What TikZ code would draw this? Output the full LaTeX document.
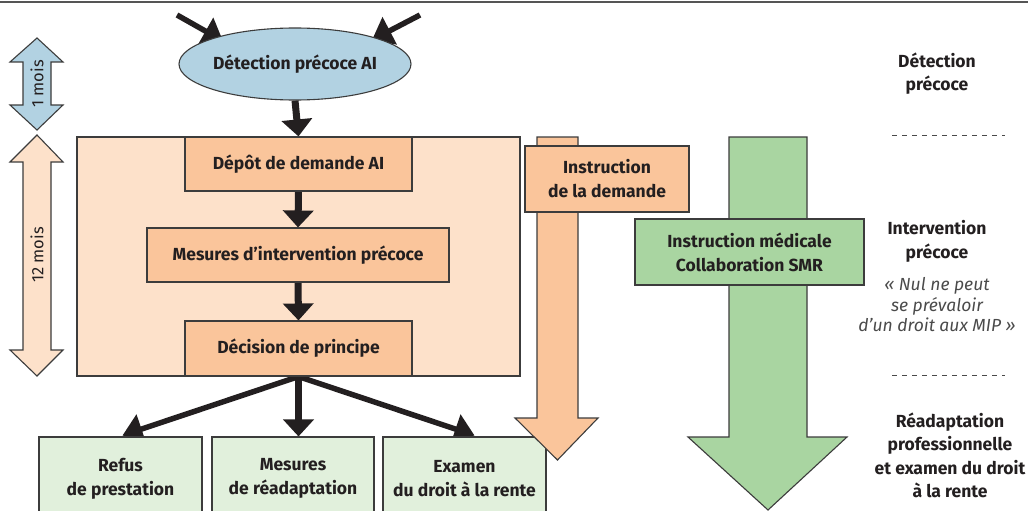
\documentclass[tikz,border=0pt]{standalone}
\usepackage{fontspec}
\setmainfont{Fira Sans}
\usetikzlibrary{shapes.geometric,arrows.meta,calc}
\definecolor{txt}{HTML}{231F20}
\definecolor{edge}{HTML}{3C3C3C}
\definecolor{bluef}{HTML}{B2D2E2}
\definecolor{peachL}{HTML}{FDE1CA}
\definecolor{peachM}{HTML}{FAC59B}
\definecolor{greenL}{HTML}{E1F0DC}
\definecolor{greenM}{HTML}{A9D5A1}
\definecolor{quotec}{HTML}{4A4A4A}
\definecolor{rulec}{HTML}{555555}
\pgfdeclarelayer{back}
\pgfdeclarelayer{background}
\pgfsetlayers{back,background,main}
\tikzset{
  box/.style={draw=edge, line width=1.1pt, text=txt, align=center, inner sep=0pt,
    font=\fontsize{17.5}{24}\selectfont\bfseries},
  lbl/.style={text=txt, align=center, inner sep=0pt,
    font=\fontsize{17.5}{23.5}\selectfont\bfseries},
  quote/.style={text=quotec, align=center, inner sep=0pt,
    font=\fontsize{17.5}{20.5}\selectfont\itshape},
  months/.style={text=txt, inner sep=0pt, rotate=90,
    font=\fontsize{16.5}{18}\selectfont},
  shapeedge/.style={draw=edge, line width=1.1pt},
  vert/.style={draw=txt, line width=7pt, -{Triangle[width=30pt,length=17pt]}},
  diag/.style={draw=txt, line width=5.5pt, -{Triangle[width=30pt,length=20pt]}},
  sep/.style={draw=quotec, line width=0.9pt, dash pattern=on 5pt off 5pt},
}
\begin{document}
\begin{tikzpicture}[x=1pt,y=-1pt]
\useasboundingbox (0,0) rectangle (1028,511);
\begin{pgfonlayer}{back}
  \fill[white] (0,0) rectangle (1028,511);
\end{pgfonlayer}
\draw[rulec, line width=2pt] (0,2) -- (1028,2);

% big peach zone and time arrows
\begin{pgfonlayer}{back}
  \node[draw=edge, line width=1.1pt, fill=peachL, minimum width=443pt, minimum height=239pt, inner sep=0pt] (zone) at (298.5,256.5) {};
  \path[shapeedge, fill=bluef] (37,38) -- (63,62) -- (51,62) -- (51,105) -- (63,105) -- (37,130) -- (10,105) -- (23,105) -- (23,62) -- (10,62) -- cycle;
  \path[shapeedge, fill=peachL] (37,135) -- (63,162) -- (51,162) -- (51,350) -- (63,350) -- (37,376) -- (10,350) -- (23,350) -- (23,162) -- (10,162) -- cycle;
\end{pgfonlayer}
\node[months] (m1) at (37,84) {1 mois};
\node[months] (m12) at (37,255) {12 mois};

% main flow
\node[ellipse, box, fill=bluef, minimum width=232pt, minimum height=72pt] (det) at (295,64) {Détection précoce AI};
\node[box, fill=peachM, minimum width=227pt, minimum height=54pt] (depot) at (298.5,164) {Dépôt de demande AI};
\node[box, fill=peachM, minimum width=302pt, minimum height=54pt] (mip) at (298,255) {Mesures d’intervention précoce};
\node[box, fill=peachM, minimum width=227pt, minimum height=55pt] (dec) at (298.5,348.5) {Décision de principe};

\node[box, fill=greenL, minimum width=163pt, minimum height=83pt] (refus) at (120.5,478.5) {Refus\\de prestation};
\node[box, fill=greenL, minimum width=162pt, minimum height=83pt] (readapt) at (293,478.5) {Mesures\\de réadaptation};
\node[box, fill=greenL, minimum width=163pt, minimum height=83pt] (rente) at (464.5,478.5) {Examen\\du droit à la rente};

% instruction arrows
\path[shapeedge, fill=peachM] (537,137) -- (578,137) -- (578,418) -- (598,418) -- (557.5,460) -- (515,418) -- (537,418) -- cycle;
\node[box, fill=peachM, minimum width=164pt, minimum height=66pt] (instr) at (607,179) {Instruction\\de la demande};
\path[shapeedge, fill=greenM] (729,137) -- (807,137) -- (807,437) -- (847,437) -- (768,510) -- (688,437) -- (729,437) -- cycle;
\node[box, fill=greenM, minimum width=229pt, minimum height=66pt] (med) at (749.5,252) {Instruction médicale\\Collaboration SMR};

% connectors
\coordinate (inL) at (177,15);
\coordinate (inR) at (420,15);
\begin{pgfonlayer}{background}
  \draw[diag] (inL) -- ($(det.center)+(-72,-23)$);
  \draw[diag] (inR) -- ($(det.center)+(77,-24)$);
  \draw[vert] (det.south) -- (depot.north);
  \draw[vert] (depot.south) -- (mip.north);
  \draw[vert] (mip.south) -- (dec.north);
  \draw[diag] (dec.south) -- ($(refus.north)+(2,-1)$);
  \draw[diag] (dec.south) -- ($(rente.north)+(10,-1)$);
  \draw[vert] (dec.south) -- (dec.south |- readapt.north);
\end{pgfonlayer}

% right-hand phase labels
\node[lbl] (phase1) at (937,73.5) {Détection\\précoce};
\coordinate (sep1a) at (892,135);
\coordinate (sep1b) at (1005,135);
\draw[sep] (sep1a) -- (sep1b);
\node[lbl] (phase2) at (937,241.5) {Intervention\\précoce};
\node[quote] (q) at (937,305) {« Nul ne peut\\se prévaloir\\d’un droit aux MIP »};
\coordinate (sep2a) at (892,375);
\coordinate (sep2b) at (1005,375);
\draw[sep] (sep2a) -- (sep2b);
\node[lbl] (phase3) at (950,455.5) {Réadaptation\\professionnelle\\et examen du droit\\à la rente};
\end{tikzpicture}
\end{document}
